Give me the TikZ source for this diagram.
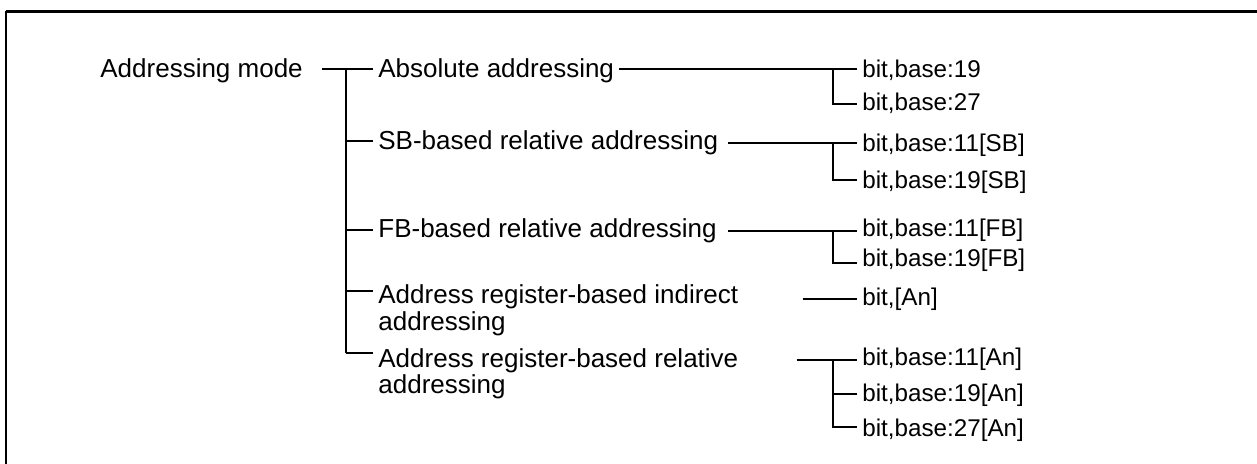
\documentclass[tikz,border=0pt]{standalone}
\usepackage{fontspec}
\setmainfont{Liberation Sans}
\begin{document}
\begin{tikzpicture}[x=0.5pt,y=-0.5pt,
  conn/.style={line width=0.85pt},
  lt/.style={anchor=base west, inner xsep=2.5pt, inner ysep=0pt, font=\fontsize{13}{15.6}\selectfont},
  rt/.style={anchor=base west, inner xsep=2.5pt, inner ysep=0pt, font=\fontsize{12.1}{14.5}\selectfont}]
\useasboundingbox (0,0) rectangle (1257,463);
% frame
\draw[line width=1.15pt] (6.2,470) -- (6.2,11.2);
\draw[line width=1.5pt] (5.6,11.2) -- (1265,11.2);
% root and level-1 nodes
\node[lt] (root) at (95,77) {Addressing mode};
\node[lt] (abs) at (373,77) {Absolute addressing};
\node[lt] (sb) at (373,149) {SB-based relative addressing};
\node[lt] (fb) at (373,237) {FB-based relative addressing};
\node[lt] (ind) at (373,303) {\vtop{\baselineskip=13.5pt\hbox{Address register-based indirect}\hbox{addressing}}};
\node[lt] (rel) at (373,367) {\vtop{\baselineskip=13pt\hbox{Address register-based relative}\hbox{addressing}}};
% level-2 nodes
\node[rt] (a19) at (857,77.3) {bit,base:19};
\node[rt] (a27) at (857,110) {bit,base:27};
\node[rt] (sb11) at (857,151.7) {bit,base:11[SB]};
\node[rt] (sb19) at (857,188.3) {bit,base:19[SB]};
\node[rt] (fb11) at (857,236.7) {bit,base:11[FB]};
\node[rt] (fb19) at (857,266.7) {bit,base:19[FB]};
\node[rt] (an) at (857,305) {bit,[An]};
\node[rt] (an11) at (857,365.7) {bit,base:11[An]};
\node[rt] (an19) at (857,401.7) {bit,base:19[An]};
\node[rt] (an27) at (857,436.7) {bit,base:27[An]};
% junction coordinates
\coordinate (rootout) at (322,69);
\coordinate (t0) at (346,69);
\coordinate (t1) at (346,141);
\coordinate (t2) at (346,230);
\coordinate (t3) at (346,291);
\coordinate (t4) at (346,352.7);
\coordinate (s1a) at (833,69);
\coordinate (s1b) at (833,104.3);
\coordinate (sbout) at (728,143.3);
\coordinate (s2a) at (833,143.3);
\coordinate (s2b) at (833,180);
\coordinate (fbout) at (728,230.7);
\coordinate (s3a) at (833,230.7);
\coordinate (s3b) at (833,263.3);
\coordinate (indout) at (802.7,299);
\coordinate (relout) at (796.7,360);
\coordinate (s5a) at (833,360);
\coordinate (s5b) at (833,394);
\coordinate (s5c) at (833,427.3);
% connectors level 1
\draw[conn] (rootout) -- (abs.west |- rootout);
\draw[conn] (t0) -- (t4);
\draw[conn] (t1) -- (sb.west |- t1);
\draw[conn] (t2) -- (fb.west |- t2);
\draw[conn] (t3) -- (ind.west |- t3);
\draw[conn] (t4) -- (rel.west |- t4);
% connectors level 2
\draw[conn] (abs.east |- s1a) -- (a19.west |- s1a);
\draw[conn] (s1a) -- (s1b) -- (a27.west |- s1b);
\draw[conn] (sbout) -- (sb11.west |- sbout);
\draw[conn] (s2a) -- (s2b) -- (sb19.west |- s2b);
\draw[conn] (fbout) -- (fb11.west |- fbout);
\draw[conn] (s3a) -- (s3b) -- (fb19.west |- s3b);
\draw[conn] (indout) -- (an.west |- indout);
\draw[conn] (relout) -- (an11.west |- relout);
\draw[conn] (s5a) -- (s5c) -- (an27.west |- s5c);
\draw[conn] (s5b) -- (an19.west |- s5b);
\end{tikzpicture}
\end{document}
